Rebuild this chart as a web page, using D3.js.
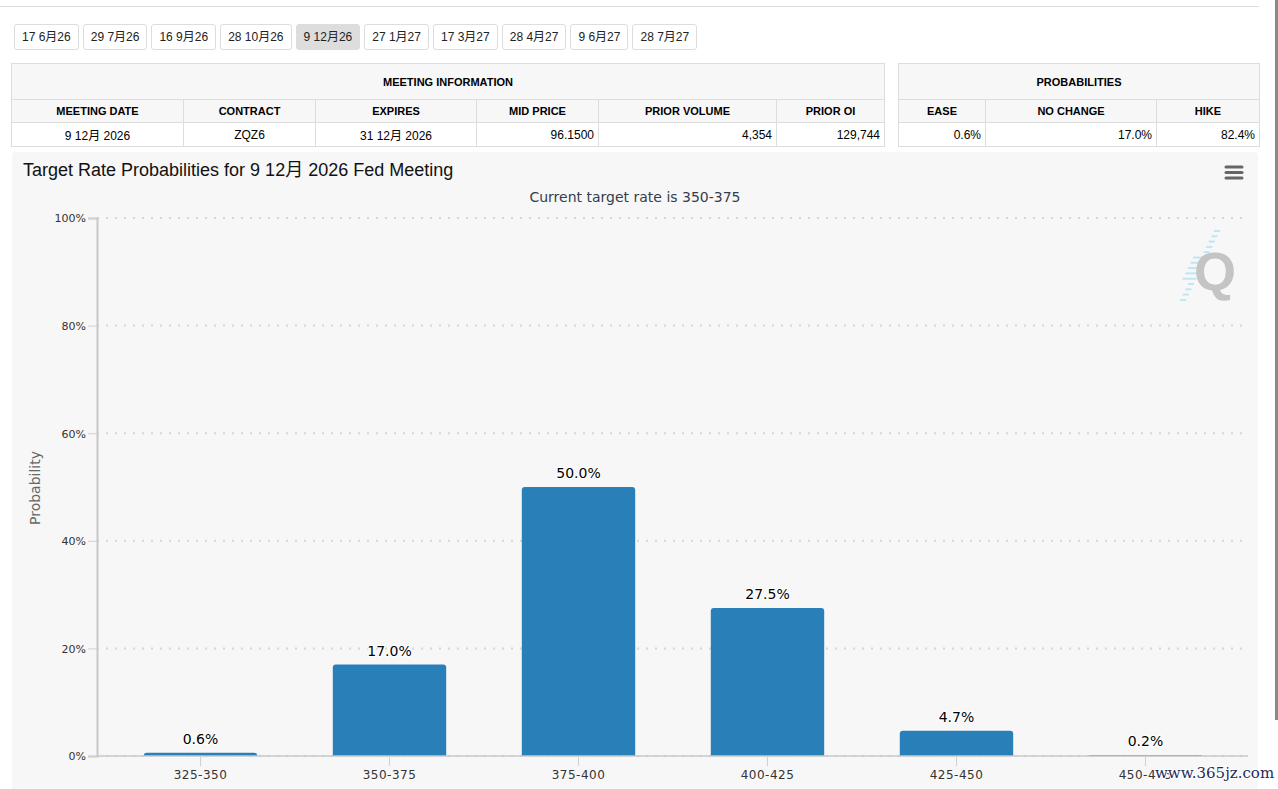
<!DOCTYPE html>
<html lang="zh">
<head>
  <meta charset="UTF-8">
  <title>Target Rate Probabilities</title>
  <script src="https://d3js.org/d3.v7.min.js"></script>
  <style>
    body { margin: 0; background: #fff; font-family: "Liberation Sans", Arial, "Noto Sans CJK SC", sans-serif; width: 1278px; height: 789px; overflow: hidden; position: relative; }
    .topline { position: absolute; left: 0; top: 6px; width: 1259px; height: 1px; background: #ddd; }
    .scroll { position: absolute; left: 1275px; top: 0; width: 3px; height: 720px; background: #8a8a8a; }
    .tabs { position: absolute; left: 14px; top: 24px; display: flex; gap: 4px; }
    .tabs div { height: 24px; line-height: 24px; padding: 0 7px; border: 1px solid #ddd; border-radius: 3px; font-size: 12px; color: #222; background: #fff; }
    .tabs div.on { background: #ddd; }
    table { position: absolute; border-collapse: collapse; table-layout: fixed; font-size: 12px; color: #000; }
    td, th { border: 1px solid #ddd; padding: 0 4px; }
    th { background: #f7f7f7; font-size: 11px; font-weight: bold; }
    th.big { height: 35px; }
    th.sub { height: 22px; }
    td { background: #fff; height: 23px; }
    svg { position: absolute; left: 0; top: 0; }
  </style>
</head>
<body>
  <div class="topline"></div>
  <div class="scroll"></div>
  <div class="tabs"></div>
  <table id="meet" style="left:11px; top:63px; width:873px;"></table>
  <table id="prob" style="left:898px; top:63px; width:361px;"></table>
  <svg width="1278" height="789"></svg>

  <script>
    const meetings = ["17 6月26", "29 7月26", "16 9月26", "28 10月26", "9 12月26", "27 1月27", "17 3月27", "28 4月27", "9 6月27", "28 7月27"];
    const activeMeeting = "9 12月26";

    const meetCols = ["MEETING DATE", "CONTRACT", "EXPIRES", "MID PRICE", "PRIOR VOLUME", "PRIOR OI"];
    const meetVals = ["9 12月 2026", "ZQZ6", "31 12月 2026", "96.1500", "4,354", "129,744"];
    const meetWidths = [172, 132, 161, 122, 178, 108];
    const meetAlign = ["center", "center", "center", "right", "right", "right"];

    const probCols = ["EASE", "NO CHANGE", "HIKE"];
    const probVals = ["0.6%", "17.0%", "82.4%"];
    const probWidths = [87, 171, 103];

    const rates = ["325-350", "350-375", "375-400", "400-425", "425-450", "450-475"];
    const probs = [0.6, 17.0, 50.0, 27.5, 4.7, 0.2];
    const yTicks = [0, 20, 40, 60, 80, 100];

    // meeting tabs
    d3.select(".tabs").selectAll("div")
      .data(meetings)
      .enter()
      .append("div")
      .attr("class", d => d === activeMeeting ? "on" : null)
      .text(d => d);

    function buildTable(id, title, cols, vals, widths, align) {
      const t = d3.select(id);
      t.append("colgroup").selectAll("col").data(widths).enter()
        .append("col").style("width", d => d + "px");
      t.append("tr").append("th").attr("class", "big").attr("colspan", cols.length).text(title);
      t.append("tr").selectAll("th").data(cols).enter()
        .append("th").attr("class", "sub").text(d => d);
      t.append("tr").selectAll("td").data(vals).enter()
        .append("td").style("text-align", (d, i) => align[i]).text(d => d);
    }
    buildTable("#meet", "MEETING INFORMATION", meetCols, meetVals, meetWidths, meetAlign);
    buildTable("#prob", "PROBABILITIES", probCols, probVals, probWidths, ["right", "right", "right"]);

    // chart
    const svg = d3.select("svg");
    const dv = '"DejaVu Sans", Verdana, sans-serif';

    svg.append("rect")
      .attr("x", 12).attr("y", 152).attr("width", 1246).attr("height", 660)
      .attr("rx", 4).attr("fill", "#f7f7f7");

    svg.append("text")
      .attr("x", 23).attr("y", 176)
      .attr("font-family", '"Liberation Sans", Arial, "Noto Sans CJK SC", sans-serif')
      .attr("font-size", "18px").attr("fill", "#111")
      .text("Target Rate Probabilities for 9 12月 2026 Fed Meeting");

    svg.append("text")
      .attr("x", 635).attr("y", 202)
      .attr("text-anchor", "middle")
      .attr("font-family", dv).attr("font-size", "14px").attr("fill", "#333d4f")
      .text("Current target rate is 350-375");

    // menu icon
    svg.selectAll(".menu").data([0, 1, 2]).enter()
      .append("line")
      .attr("x1", 1226).attr("x2", 1242)
      .attr("y1", d => 167 + d * 5.5).attr("y2", d => 167 + d * 5.5)
      .attr("stroke", "#666").attr("stroke-width", 3).attr("stroke-linecap", "round");

    const plotLeft = 97, plotRight = 1247;
    const x = d3.scaleBand().domain(rates).range([106, 1240]).paddingInner(0.4).paddingOuter(0.2);
    const y = d3.scaleLinear().domain([0, 100]).range([756, 218]);

    // watermark logo
    const logo = svg.append("g");
    logo.selectAll("line").data(d3.range(14)).enter()
      .append("line")
      .attr("x1", d => 1218 - d * 2.6 - (d > 4 && d < 10 ? 12 : 4))
      .attr("x2", d => 1220 - d * 2.6)
      .attr("y1", d => 231 + d * 5.3).attr("y2", d => 231 + d * 5.3)
      .attr("stroke", "#bfe6f5").attr("stroke-width", 2);
    logo.append("text")
      .attr("x", 1215).attr("y", 290)
      .attr("text-anchor", "middle")
      .attr("font-family", '"Liberation Sans", Arial, sans-serif')
      .attr("font-weight", "bold").attr("font-size", "54px").attr("fill", "#c4c4c4")
      .text("Q");

    // grid
    svg.append("g").selectAll("line").data(yTicks).enter()
      .append("line")
      .attr("x1", plotLeft).attr("x2", plotRight)
      .attr("y1", d => y(d)).attr("y2", d => y(d))
      .attr("stroke", "#d6d6d6").attr("stroke-width", 2)
      .attr("stroke-dasharray", "2,7");

    // y axis
    const yAxis = svg.append("g")
      .attr("transform", `translate(${plotLeft},0)`)
      .call(d3.axisLeft(y).tickValues(yTicks).tickSize(9).tickPadding(2).tickFormat(d => d + "%"));
    yAxis.select(".domain").attr("stroke", "#c8c8c8").attr("stroke-width", 2);
    yAxis.selectAll(".tick line").attr("stroke", "#d0d0d0");
    yAxis.selectAll(".tick text")
      .attr("font-family", dv).attr("font-size", "11px").attr("fill", "#333")
      .attr("dy", "0.35em");

    svg.append("text")
      .attr("transform", "translate(40,488) rotate(-90)")
      .attr("text-anchor", "middle")
      .attr("font-family", dv).attr("font-size", "14px").attr("fill", "#666")
      .text("Probability");

    // bars
    const barPath = d => {
      const x0 = x(d.rate), w = x.bandwidth(), y0 = y(d.p), b = y(0);
      const r = Math.min(3, b - y0);
      return `M${x0},${b}V${y0 + r}Q${x0},${y0} ${x0 + r},${y0}H${x0 + w - r}Q${x0 + w},${y0} ${x0 + w},${y0 + r}V${b}Z`;
    };
    const data = rates.map((r, i) => ({ rate: r, p: probs[i] }));
    svg.append("g").selectAll("path").data(data).enter()
      .append("path")
      .attr("d", barPath)
      .attr("fill", "#2980b9");

    // x axis
    const xAxis = svg.append("g")
      .attr("transform", `translate(0,${y(0)})`)
      .call(d3.axisBottom(x).tickSize(10).tickPadding(4));
    xAxis.select(".domain").remove();
    xAxis.insert("line", ":first-child")
      .attr("x1", plotLeft).attr("x2", plotRight + 1)
      .attr("stroke", "#c8c8c8").attr("stroke-width", 1.5);
    xAxis.selectAll(".tick line").attr("stroke", "#d0d0d0");
    xAxis.selectAll(".tick text")
      .attr("font-family", dv).attr("font-size", "12px").attr("fill", "#333")
      .attr("letter-spacing", "0.5px");

    // data labels
    svg.append("g").selectAll("text").data(data).enter()
      .append("text")
      .attr("x", d => x(d.rate) + x.bandwidth() / 2)
      .attr("y", d => y(d.p) - 9)
      .attr("text-anchor", "middle")
      .attr("font-family", dv).attr("font-size", "14px").attr("fill", "#000")
      .attr("stroke", "#fff").attr("stroke-width", 2).attr("paint-order", "stroke")
      .text(d => d.p.toFixed(1) + "%");

    // site watermark (sits over the last axis label, as in the source)
    svg.append("text")
      .attr("x", 1155).attr("y", 778)
      .attr("font-family", '"DejaVu Serif", serif').attr("font-size", "15px")
      .attr("fill", "#1d2a5c")
      .attr("stroke", "#fff").attr("stroke-width", 2).attr("paint-order", "stroke")
      .text("www.365jz.com");
  </script>
</body>
</html>
